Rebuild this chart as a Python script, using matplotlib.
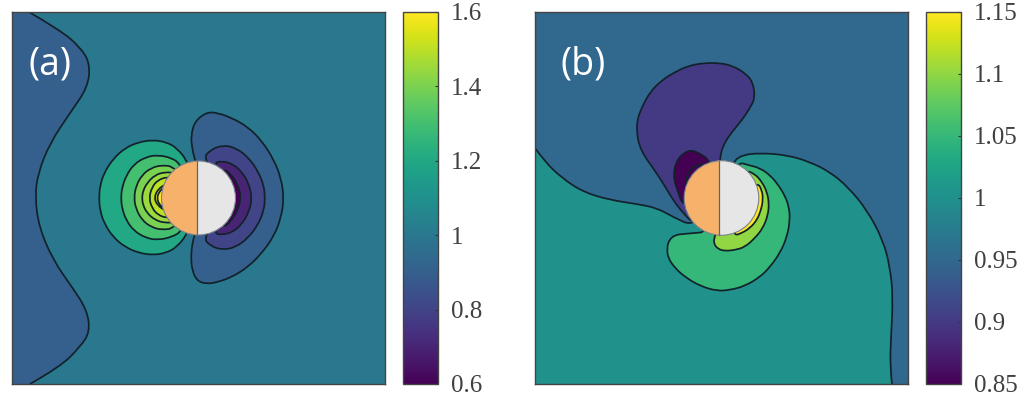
import matplotlib
matplotlib.use('Agg')
import matplotlib.pyplot as plt
import numpy as np
from matplotlib.cm import ScalarMappable
from matplotlib.colors import Normalize
from matplotlib.patches import Circle, PathPatch, Rectangle
from matplotlib.path import Path

# contour outlines (image px coordinates)
# panel a
a_left = [(29,12),(60,30),(80,47),(90,63),(88,87),(70,113),(50,143),(38,173),(35,197),(39,227),(53,260),(72,287),(87,310),(90,332),(80,347),(60,367),(30,384)]
a_left_corners = [(12,384),(12,12)]
a_hi1 = [(200,198),(188,162),(177,148),(166,142),(153,140),(139,142),(125,148),(113,159),(104,173),(100,186),(99,198),(100,210),(104,223),(113,237),(125,247),(139,253),(153,255),(166,253),(177,247),(188,233)]
a_hi2 = [(200,198),(180,164),(172,158),(158,155),(146,157),(134,164),(126,176),(122,188),(121,198),(122,208),(126,220),(134,231),(146,238),(158,240),(172,237),(182,231)]
a_hi3 = [(200,198),(175,167),(162,165),(151,168),(142,175),(136,186),(134,198),(136,209),(142,220),(151,227),(162,230),(175,228)]
a_hi4 = [(200,198),(176,173),(165,172),(155,175),(147,183),(143,191),(142,198),(143,205),(147,213),(155,220),(165,223),(176,222)]
a_hi5 = [(200,198),(178,178),(167,177),(158,180),(152,187),(149,198),(152,208),(158,215),(167,218),(178,217)]
a_hi6 = [(200,198),(175,182),(166,184),(158,189),(154,198),(158,206),(166,211),(175,213)]
a_hi7 = [(200,198),(172,184),(164,187),(159,192),(157,198),(159,204),(164,209),(172,212)]
a_lo1 = [(207,112),(218,113),(232,118),(248,127),(262,141),(274,160),(281,178),(284,198),(281,218),(274,236),(262,253),(248,267),(232,277),(218,282),(207,284),(197,281),(192,270),(191,257),(192,245),(195,233),(205,198),(195,160),(192,148),(191,135),(195,121)]
a_lo2 = [(230,198),(203,159),(210,150),(223,145),(236,148),(248,157),(258,171),(264,186),(265,198),(264,210),(258,225),(248,238),(236,247),(223,250),(210,246),(203,237)]
a_lo3 = [(230,198),(213,163),(222,161),(233,164),(242,172),(249,184),(252,198),(249,212),(242,224),(233,232),(222,235),(213,233)]
a_lo4 = [(225,198),(222,168),(231,174),(238,185),(241,197),(238,210),(231,221),(222,229)]
a_background = 1.0
a_left_value = 0.9
a_hi_values = [1.2, 1.3, 1.4, 1.45, 1.5, 1.55, 1.6]
a_lo_values = [0.9, 0.8, 0.7, 0.6]
a_ticks = [0.6, 0.8, 1, 1.2, 1.4, 1.6]
a_ticklabels = ['0.6', '0.8', '1', '1.2', '1.4', '1.6']

# panel b
b_split = [(535,148),(545,162),(562,178),(583,192),(610,200),(637,204),(657,208),(673,217),(695,227),(720,190),(733,162),(742,155),(760,153),(787,155),(810,162),(830,172),(848,187),(867,210),(883,240),(890,267),(893,297),(891,337),(890,367),(892,384)]
b_split_corners = [(535,384)]
b_green = [(720,190),(706,232),(695,233),(683,234),(675,235),(669,240),(667,248),(668,258),(675,268),(685,277),(700,286),(717,291),(730,290),(745,286),(760,277),(770,267),(780,253),(787,237),(790,220),(789,207),(785,196),(779,186),(771,176),(760,168),(748,165),(738,162)]
b_lime = [(725,200),(714,238),(714,244),(718,249),(725,251),(735,250),(745,247),(755,238),(763,228),(768,215),(769,203),(767,192),(762,182),(755,174),(745,170)]
b_yellow = [(725,200),(733,236),(742,233),(750,228),(757,220),(761,210),(763,200),(762,190),(757,182)]
b_purple = [(710,200),(695,225),(683,213),(673,200),(663,183),(653,168),(645,157),(639,145),(637,133),(637,120),(642,107),(650,92),(662,80),(675,72),(688,66),(703,63),(720,63),(733,66),(745,73),(753,82),(755,98),(750,108),(742,120),(732,132),(725,142),(721,152),(720,162)]
b_dark = [(710,190),(684,208),(677,190),(673,175),(677,159),(688,150),(698,152),(712,162)]
b_dark_inner = [(710,190),(686,205),(686,182),(688,172),(695,166),(705,163)]
b_background = 0.95
b_split_value = 1.0
b_values = [1.05, 1.1, 1.15, 0.9, 0.85, 0.85]
b_ticks = [0.85, 0.9, 0.95, 1, 1.05, 1.1, 1.15]
b_ticklabels = ['0.85', '0.9', '0.95', '1', '1.05', '1.1', '1.15']

line_col = '#12222a'
line_w = 1.25
W, H = 1035, 398


def px_axes(fig, x0, x1, y0=12, y1=384):
    return fig.add_axes([x0 / W, (H - y1) / H, (x1 - x0) / W, (y1 - y0) / H])


def curve(pts, closed=True):
    pts = np.array(pts, dtype=float)
    if closed:
        pts2 = np.vstack([pts, pts[0]])
        verts = [(pts[-1] + pts[0]) / 2]
        codes = [Path.MOVETO]
        for i in range(len(pts)):
            verts += [pts2[i], (pts2[i] + pts2[i + 1]) / 2]
            codes += [Path.CURVE3, Path.CURVE3]
        return verts, codes
    verts = [pts[0]]
    codes = [Path.MOVETO]
    for i in range(1, len(pts) - 1):
        end = pts[-1] if i == len(pts) - 2 else (pts[i] + pts[i + 1]) / 2
        verts += [pts[i], end]
        codes += [Path.CURVE3, Path.CURVE3]
    return verts, codes


def region(ax, pts, value, norm, corners=None):
    col = plt.cm.viridis(norm(value))
    if corners is None:
        verts, codes = curve(pts)
        ax.add_patch(PathPatch(Path(verts, codes), fc=col, ec=line_col, lw=line_w))
        return
    verts, codes = curve(pts, closed=False)
    # fill runs along the frame, only the curve gets a line
    fill_v = verts + list(corners) + [verts[0]]
    fill_c = codes + [Path.LINETO] * len(corners) + [Path.CLOSEPOLY]
    ax.add_patch(PathPatch(Path(fill_v, fill_c), fc=col, ec='none'))
    ax.add_patch(PathPatch(Path(verts, codes), fc='none', ec=line_col, lw=line_w))


def sphere(ax, cx, cy, r, xdiv):
    c = Circle((cx, cy), r, fc='#e6e6e6', ec='none', zorder=5)
    ax.add_patch(c)
    half = Rectangle((cx - r - 1, cy - r - 1), xdiv - cx + r + 1, 2 * r + 2, fc='#f6b26b', ec='none', zorder=6)
    ax.add_patch(half)
    half.set_clip_path(c)
    ax.plot([xdiv, xdiv], [cy - r, cy + r], color='#5c6670', lw=0.9, zorder=7)
    ax.add_patch(Circle((cx, cy), r, fc='none', ec='#77808c', lw=0.8, zorder=8))


def frame(ax, x0, x1, bg, norm):
    ax.set_xlim(x0, x1)
    ax.set_ylim(384, 12)
    ax.set_facecolor(plt.cm.viridis(norm(bg)))
    ax.set_xticks([])
    ax.set_yticks([])
    for s in ax.spines.values():
        s.set_color('#444444')
        s.set_linewidth(1.0)
        s.set_zorder(10)


def cbar(fig, cax, norm, ticks, labels):
    cb = fig.colorbar(ScalarMappable(norm=norm, cmap='viridis'), cax=cax)
    cb.set_ticks(ticks)
    cb.set_ticklabels(labels)
    cb.outline.set_edgecolor('#444444')
    cb.outline.set_linewidth(1.0)
    cax.tick_params(direction='in', length=2.5, width=0.8, color='#333333', pad=9.5,
                    labelsize=18, labelcolor='#404040')
    for t in cax.get_yticklabels():
        t.set_family('Liberation Serif')


fig = plt.figure(figsize=(W / 100, H / 100), dpi=100)

# --- panel a ---
norm_a = Normalize(0.6, 1.6)
ax1 = px_axes(fig, 12, 385)
frame(ax1, 12, 385, a_background, norm_a)
region(ax1, a_left, a_left_value, norm_a, corners=a_left_corners)
for pts, v in zip([a_hi1, a_hi2, a_hi3, a_hi4, a_hi5, a_hi6, a_hi7], a_hi_values):
    region(ax1, pts, v, norm_a)
for pts, v in zip([a_lo1, a_lo2, a_lo3, a_lo4], a_lo_values):
    region(ax1, pts, v, norm_a)
sphere(ax1, 198.5, 198, 37, 197)
ax1.text(28, 65, '(a)', color='white', fontsize=27, family='Open Sans', va='center', ha='left', zorder=9)
cbar(fig, px_axes(fig, 403, 438), norm_a, a_ticks, a_ticklabels)

# --- panel b ---
norm_b = Normalize(0.85, 1.15)
ax2 = px_axes(fig, 535, 908)
frame(ax2, 535, 908, b_background, norm_b)
region(ax2, b_split, b_split_value, norm_b, corners=b_split_corners)
for pts, v in zip([b_green, b_lime, b_yellow, b_purple, b_dark, b_dark_inner], b_values):
    region(ax2, pts, v, norm_b)
sphere(ax2, 721.5, 198, 37.3, 719)
ax2.text(561, 65, '(b)', color='white', fontsize=27, family='Open Sans', va='center', ha='left', zorder=9)
cbar(fig, px_axes(fig, 926, 961), norm_b, b_ticks, b_ticklabels)

fig.savefig('out.png', dpi=100)
